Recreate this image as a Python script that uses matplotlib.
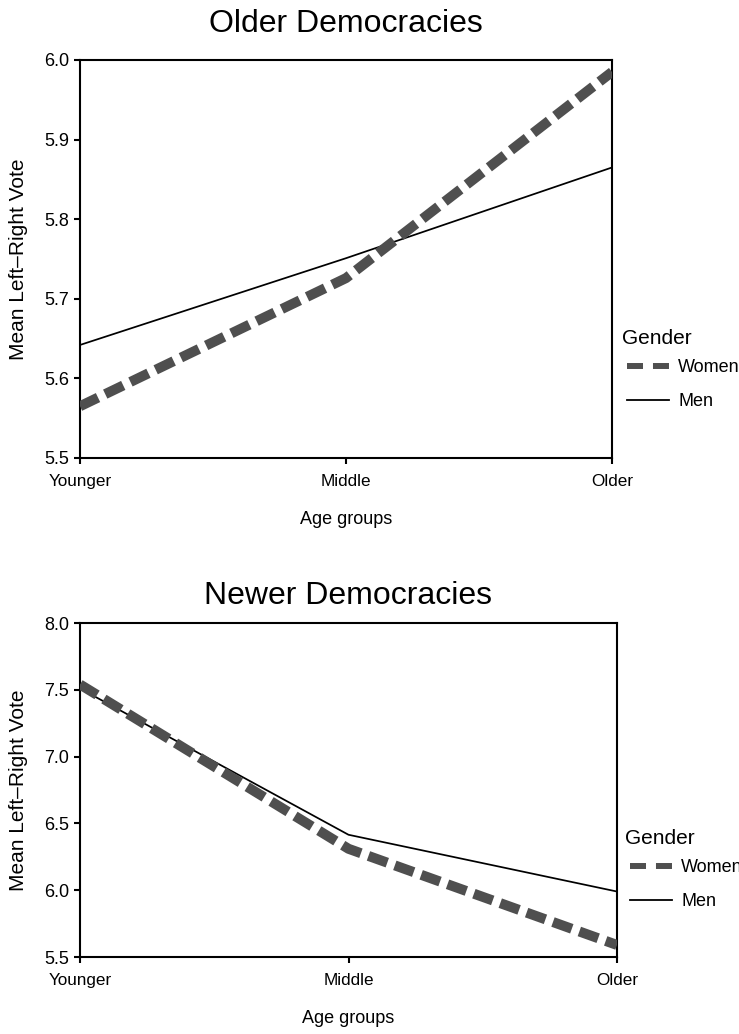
import matplotlib
matplotlib.use("Agg")
import matplotlib.pyplot as plt
from matplotlib.lines import Line2D

plt.rcParams['font.family'] = ['Liberation Sans', 'DejaVu Sans']

age_groups = ["Younger", "Middle", "Older"]
older_women = [5.565, 5.726, 5.985]
older_men = [5.642, 5.751, 5.865]
newer_women = [7.54, 6.31, 5.59]
newer_men = [7.51, 6.415, 5.99]
older_yticks = [5.5, 5.6, 5.7, 5.8, 5.9, 6.0]
newer_yticks = [5.5, 6.0, 6.5, 7.0, 7.5, 8.0]
series_labels = ["Women", "Men"]
legend_title = "Gender"

W, H = 739, 1034
fig = plt.figure(figsize=(W / 100, H / 100), dpi=100)

def px_box(l, t, r, b):
    return [l / W, 1 - b / H, (r - l) / W, (b - t) / H]

women_color = '#4f4f4f'

def panel(rect, title, women, men, yticks, title_pad, legend_xy):
    ax = fig.add_axes(rect)
    x = list(range(len(age_groups)))
    ax.plot(x, women, color=women_color, lw=7.2, dashes=(2.0, 0.8),
            solid_capstyle='butt', dash_capstyle='butt', zorder=3)
    ax.plot(x, men, color='black', lw=1.25, zorder=2)
    ax.set_xlim(0, 2)
    ax.set_ylim(yticks[0], yticks[-1])
    ax.set_xticks(x)
    ax.set_xticklabels(age_groups, fontsize=12.3)
    ax.set_yticks(yticks)
    ax.set_yticklabels(["{:.1f}".format(v) for v in yticks], fontsize=13)
    ax.tick_params(direction='out', length=4, width=1.5)
    ax.tick_params(axis='x', pad=7.5)
    ax.tick_params(axis='y', pad=4)
    for s in ax.spines.values():
        s.set_linewidth(1.5)
    ax.set_title(title, fontsize=23, pad=title_pad)
    ax.set_xlabel("Age groups", fontsize=13, labelpad=16)
    ax.set_ylabel("Mean Left\u2013Right Vote", fontsize=15, labelpad=11)
    handles = [
        Line2D([], [], color=women_color, lw=4.3, dashes=(2.68, 1.67), dash_capstyle='butt'),
        Line2D([], [], color='black', lw=1.3),
    ]
    gx, gy = legend_xy
    fig.text(gx / W, 1 - gy / H, legend_title, fontsize=15, ha='left', va='center')
    ax.legend(handles, series_labels, frameon=False,
              loc='upper left', bbox_to_anchor=((gx + 5) / W, 1 - (gy + 21) / H),
              bbox_transform=fig.transFigure, borderaxespad=0, borderpad=0,
              fontsize=13, handlelength=2.33, handletextpad=0.5,
              labelspacing=0.95)
    return ax

panel(px_box(80, 60, 612, 458), "Older Democracies", older_women, older_men,
      older_yticks, 20, (622, 338))
panel(px_box(80, 623, 617, 957), "Newer Democracies", newer_women, newer_men,
      newer_yticks, 13.7, (625, 838))

fig.savefig("out.png", dpi=100)
